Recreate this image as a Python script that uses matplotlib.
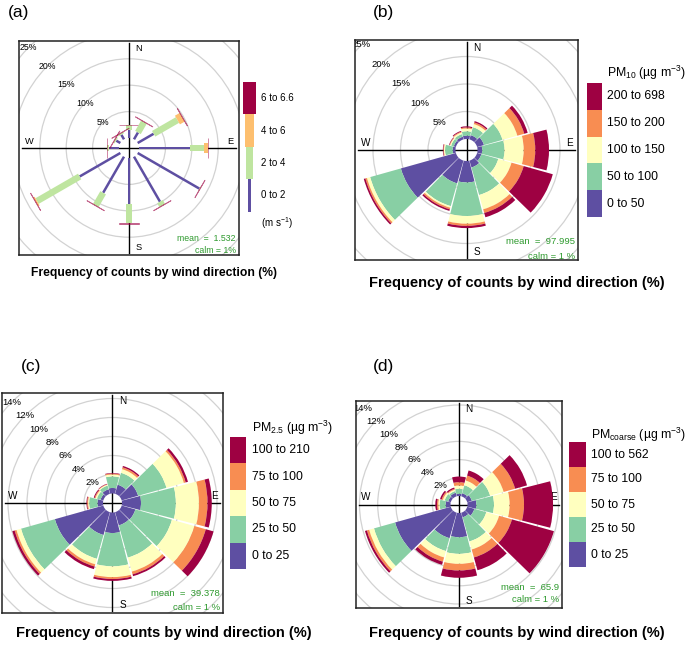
import numpy as np
import matplotlib
matplotlib.use("Agg")
import matplotlib.pyplot as plt
from matplotlib.patches import Wedge, Polygon, Rectangle, Circle

plt.rcParams["font.family"] = ["Liberation Sans", "DejaVu Sans"]
plt.rcParams["mathtext.fontset"] = "custom"
plt.rcParams["mathtext.rm"] = "Liberation Sans"
plt.rcParams["mathtext.it"] = "Liberation Sans:italic"
plt.rcParams["mathtext.bf"] = "Liberation Sans:bold"

FIG_W, FIG_H = 685, 645

# wind directions (deg from north)
DIRS = [0, 30, 60, 90, 120, 150, 180, 210, 240, 270, 300, 330]

# (a) wind speed, cumulative frequency (%) per direction
WS_LABELS = ["0 to 2", "2 to 4", "4 to 6", "6 to 6.6"]
WS_CUM = [
    [1.5, 2.5, 2.5, 2.55],
    [1.5, 3.8, 3.8, 3.85],
    [3.5, 8.7, 9.75, 9.8],
    [9.7, 12.4, 13.05, 13.1],
    [13.5, 13.6, 13.6, 13.65],
    [9.85, 10.7, 10.7, 10.75],
    [8.7, 12.4, 12.4, 12.45],
    [7.9, 10.7, 10.7, 10.75],
    [8.9, 18.2, 18.5, 18.55],
    [1.9, 2.3, 2.3, 2.35],
    [0.9, 1.2, 1.2, 1.25],
    [1.0, 1.3, 1.3, 1.35],
]
WS_MEAN = "1.532"

# (b) PM10
PM10_LABELS = ["0 to 50", "50 to 100", "100 to 150", "150 to 200", "200 to 698"]
PM10_CUM = [
    [0.6, 1.4, 1.9, 2.1, 2.3],
    [0.8, 2.3, 2.9, 3.2, 3.45],
    [1.3, 4.8, 7.6, 8.9, 9.55],
    [0.85, 4.9, 8.4, 10.5, 13.0],
    [0.8, 4.0, 6.5, 8.8, 14.3],
    [1.3, 6.5, 9.2, 9.9, 10.7],
    [3.9, 10.0, 11.4, 11.8, 12.2],
    [4.3, 8.6, 8.9, 9.2, 9.5],
    [10.4, 16.2, 16.8, 17.1, 17.4],
    [0.5, 1.9, 2.1, 2.2, 2.3],
    [0.4, 0.9, 1.1, 1.2, 1.3],
    [0.5, 1.0, 1.3, 1.45, 1.6],
]
PM10_MEAN = "97.995"

# (c) PM2.5
PM25_LABELS = ["0 to 25", "25 to 50", "50 to 75", "75 to 100", "100 to 210"]
PM25_CUM = [
    [0.58, 1.8, 2.0, 2.1, 2.16],
    [1.0, 2.3, 2.7, 2.9, 3.05],
    [1.8, 4.9, 6.8, 7.0, 7.25],
    [2.0, 5.67, 8.1, 9.0, 9.45],
    [1.5, 5.5, 7.95, 9.2, 10.05],
    [1.45, 4.97, 6.5, 6.8, 7.0],
    [2.16, 5.67, 6.8, 7.0, 7.2],
    [2.5, 5.1, 5.7, 5.95, 6.23],
    [5.3, 9.0, 9.5, 9.7, 9.95],
    [0.58, 1.46, 1.57, 1.67, 1.74],
    [0.3, 0.7, 0.85, 0.95, 1.05],
    [0.5, 0.9, 1.0, 1.05, 1.1],
]
PM25_MEAN = "39.378"

# (d) PM coarse
PMC_LABELS = ["0 to 25", "25 to 50", "50 to 75", "75 to 100", "100 to 562"]
PMC_CUM = [
    [0.24, 0.79, 1.15, 1.52, 2.14],
    [0.35, 1.26, 1.8, 2.36, 2.95],
    [0.53, 2.62, 4.16, 5.47, 6.83],
    [0.97, 2.91, 4.63, 6.21, 9.4],
    [0.82, 2.18, 3.64, 5.11, 9.9],
    [0.53, 3.28, 4.2, 5.11, 6.57],
    [2.66, 4.49, 5.59, 6.32, 7.12],
    [2.91, 4.38, 5.11, 5.59, 5.95],
    [6.36, 8.77, 9.32, 9.58, 9.8],
    [0.53, 1.19, 1.34, 1.48, 1.67],
    [0.3, 0.7, 0.9, 1.05, 1.23],
    [0.4, 0.6, 0.75, 0.85, 1.0],
]
PMC_MEAN = "65.9"

BREAKS_A = [5, 10, 15, 20, 25]
LABELS_A = [5, 10, 15, 20, 25]
BREAKS_C = [2, 4, 6, 8, 10, 12, 14, 16]
LABELS_C = [2, 4, 6, 8, 10, 12, 14]

COLS4 = ["#5E4FA2", "#BFE5A0", "#FDBF6F", "#9E0142"]
COLS5 = ["#5E4FA2", "#88CFA4", "#FFFFBF", "#F88D52", "#9E0142"]
GREEN = "#2E9A2E"


def px_rect(x0, y0, x1, y1):
    return [x0 / FIG_W, 1 - y1 / FIG_H, (x1 - x0) / FIG_W, (y1 - y0) / FIG_H]


def rose_frame(ax, box, k, off, breaks, labels, lab_size, mean, calm, mean_y, calm_y):
    w = box[2] - box[0]
    h = box[3] - box[1]
    hx, hy = w / 2 / k, h / 2 / k
    o = off / k
    s = np.sin(np.pi / 4)
    for b in breaks:
        ax.add_patch(Circle((0, 0), b + o, fill=False, ec="#D2D2D2", lw=0.9, zorder=1))
    for b in labels:
        ax.text(-(b + o) * s, (b + o) * s, f"{b}%", ha="center", va="center",
                fontsize=lab_size, clip_on=True, zorder=1.5)
    ax.plot([-hx + 3 / k, hx - 3 / k], [0, 0], color="black", lw=1.0, zorder=2)
    ax.plot([0, 0], [-hy + 2 / k, hy - 2 / k], color="black", lw=1.0, zorder=2)
    ax.text(0.53, 0.985, "N", transform=ax.transAxes, ha="left", va="top", fontsize=lab_size + 0.4, zorder=2)
    ax.text(0.53, 0.012, "S", transform=ax.transAxes, ha="left", va="bottom", fontsize=lab_size + 0.4, zorder=2)
    ax.text(0.025, 0.51, "W", transform=ax.transAxes, ha="left", va="bottom", fontsize=lab_size + 0.4, zorder=2)
    ax.text(0.975, 0.51, "E", transform=ax.transAxes, ha="right", va="bottom", fontsize=lab_size + 0.4, zorder=2)
    ax.text(0.985, mean_y, f"mean  =  {mean}", transform=ax.transAxes, ha="right", va="center",
            fontsize=lab_size, color=GREEN, zorder=5)
    ax.text(0.985, calm_y, calm, transform=ax.transAxes, ha="right", va="center",
            fontsize=lab_size, color=GREEN, zorder=5)
    ax.set_xlim(-hx, hx)
    ax.set_ylim(-hy, hy)
    ax.set_xticks([])
    ax.set_yticks([])
    for sp in ax.spines.values():
        sp.set_linewidth(1.1)
        sp.set_color("#222222")
    return o


def draw_wedges(ax, o, cum, cols, hw=14.3):
    for d, vals in zip(DIRS, cum):
        prev = 0.0
        for j, v in enumerate(vals):
            if v - prev > 0:
                ax.add_patch(Wedge((0, 0), o + v, 90 - d - hw, 90 - d + hw,
                                   width=v - prev, fc=cols[j], ec="none", zorder=3))
            prev = v


def draw_paddles(ax, o, k, cum, cols, widths_px):
    for d, vals in zip(DIRS, cum):
        t = np.deg2rad(d)
        u = np.array([np.sin(t), np.cos(t)])
        p = np.array([np.cos(t), -np.sin(t)])
        prev = 0.0
        for j, v in enumerate(vals):
            hw = widths_px[j] / 2 / k
            r1, r2 = o + prev, o + v
            pts = [r1 * u - hw * p, r2 * u - hw * p, r2 * u + hw * p, r1 * u + hw * p]
            if j == len(vals) - 1:
                ax.add_patch(Polygon(pts, closed=True, fc=cols[j], ec=cols[j], lw=0.6,
                                     alpha=0.55, zorder=3))
            elif v - prev > 0:
                ax.add_patch(Polygon(pts, closed=True, fc=cols[j], ec="none", zorder=3))
            prev = v


fig = plt.figure(figsize=(FIG_W / 100, FIG_H / 100), dpi=100)

# overlay in pixel units for legends and captions
ov = fig.add_axes([0, 0, 1, 1])
ov.set_xlim(0, FIG_W)
ov.set_ylim(FIG_H, 0)
ov.set_axis_off()

# ---- (a)
box_a = (19, 41, 239, 255)
ax_a = fig.add_axes(px_rect(*box_a))
o_a = rose_frame(ax_a, box_a, 5.28, 10, BREAKS_A, LABELS_A, 6.3, WS_MEAN, "calm = 1%", 0.079, 0.023)
draw_paddles(ax_a, o_a, 5.28, WS_CUM, COLS4, [2.5, 6.5, 10, 20])

# ---- (b)
box_b = (355, 40, 578, 260)
ax_b = fig.add_axes(px_rect(*box_b))
o_b = rose_frame(ax_b, box_b, 5.5, 11, BREAKS_A, LABELS_A, 6.8, PM10_MEAN, "calm = 1 %", 0.086, 0.018)
draw_wedges(ax_b, o_b, PM10_CUM, COLS5)

# ---- (c)
box_c = (2, 393, 223, 613)
ax_c = fig.add_axes(px_rect(*box_c))
o_c = rose_frame(ax_c, box_c, 9.5, 9.5, BREAKS_C, LABELS_C, 6.8, PM25_MEAN, "calm = 1 %", 0.09, 0.027)
draw_wedges(ax_c, o_c, PM25_CUM, COLS5)

# ---- (d)
box_d = (356, 401, 562, 608)
ax_d = fig.add_axes(px_rect(*box_d))
o_d = rose_frame(ax_d, box_d, 9.1, 8.5, BREAKS_C, LABELS_C, 6.8, PMC_MEAN, "calm = 1 %", 0.10, 0.043)
draw_wedges(ax_d, o_d, PMC_CUM, COLS5)

# panel letters
for lab, x, y in [("(a)", 19, 13), ("(b)", 384, 13), ("(c)", 31, 366), ("(d)", 384, 366)]:
    ov.text(x, y, lab, ha="center", va="center", fontsize=12.5)

# captions
cap = "Frequency of counts by wind direction (%)"
ov.text(154, 273, cap, ha="center", va="center", fontsize=8.75, fontweight="bold")
ov.text(517, 283, cap, ha="center", va="center", fontsize=10.5, fontweight="bold")
ov.text(164, 633, cap, ha="center", va="center", fontsize=10.5, fontweight="bold")
ov.text(517, 633, cap, ha="center", va="center", fontsize=10.5, fontweight="bold")

# legend (a): paddle widths
leg_w = [2.5, 7, 9, 13]
leg_y = [179, 147, 114, 82]
leg_h = [33, 32, 33, 32]
for j in range(4):
    ov.add_patch(Rectangle((249.5 - leg_w[j] / 2, leg_y[j]), leg_w[j], leg_h[j],
                           fc=COLS4[j], ec="none"))
    ov.text(261, leg_y[j] + leg_h[j] / 2, WS_LABELS[j], ha="left", va="center", fontsize=7)
ov.text(261, 223, r"(m s$^{\mathrm{-1}}$)", ha="left", va="center", fontsize=7)


def box_legend(x0, y0, y1, bw, labels, title, tx, ty):
    n = len(labels)
    bh = (y1 - y0) / n
    for j in range(n):
        yt = y0 + (n - 1 - j) * bh
        ov.add_patch(Rectangle((x0, yt), bw, bh, fc=COLS5[j], ec="none"))
        ov.text(tx, yt + bh / 2, labels[j], ha="left", va="center", fontsize=8.8)
    ov.text(tx, ty, title, ha="left", va="center", fontsize=8.8)


box_legend(587, 83, 217, 15, PM10_LABELS, r"PM$_{\mathrm{10}}$ (µg m$^{\mathrm{-3}}$)", 607, 73)
box_legend(230, 437, 569, 16, PM25_LABELS, r"PM$_{\mathrm{2.5}}$ (µg m$^{\mathrm{-3}}$)", 252, 428)
box_legend(569, 442, 567, 17, PMC_LABELS, r"PM$_{\mathrm{coarse}}$ (µg m$^{\mathrm{-3}}$)", 591, 435)

fig.savefig("out.png", dpi=100)
